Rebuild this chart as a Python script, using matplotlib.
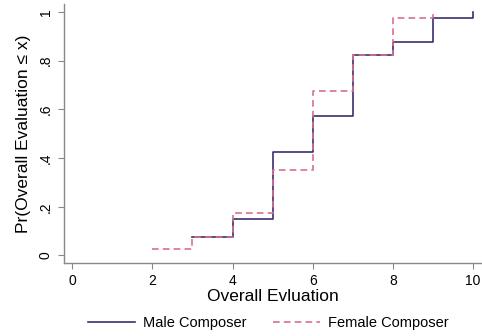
import matplotlib
matplotlib.use('Agg')
from matplotlib import pyplot as plt

# Cumulative distribution of overall evaluations.
male_x = [3, 4, 5, 6, 7, 8, 9, 10]
male_y = [0.075, 0.15, 0.425, 0.575, 0.825, 0.875, 0.975, 1.0]
female_x = [2, 3, 4, 5, 6, 7, 8, 9]
female_y = [0.025, 0.075, 0.175, 0.35, 0.675, 0.825, 0.975, 1.0]

x_ticks = [0, 2, 4, 6, 8, 10]
y_ticks = [0, 0.2, 0.4, 0.6, 0.8, 1.0]
y_tick_labels = ['0', '.2', '.4', '.6', '.8', '1']

plt.rcParams['font.family'] = ['Liberation Sans', 'DejaVu Sans']

fig = plt.figure(figsize=(4.82, 3.36), dpi=100)
ax = fig.add_axes([0.133, 0.218, 0.867, 0.77])

ax.plot(male_x, male_y, drawstyle='steps-post', color='#3b2f6e',
        lw=1.2, label='Male Composer')
ax.plot(female_x, female_y, drawstyle='steps-post', color='#d8708e',
        lw=1.2, ls=(0, (4, 2.5)), label='Female Composer')

# Format plot.
ax.set_xlim(-0.2, 10.22)
ax.set_ylim(-0.03, 1.033)
ax.set_xticks(x_ticks)
ax.set_yticks(y_ticks)
ax.set_yticklabels(y_tick_labels, rotation=90, va='center')
ax.tick_params(axis='both', labelsize=10, length=4, color='#888888', pad=4)
for side in ['top', 'right']:
    ax.spines[side].set_visible(False)
for side in ['left', 'bottom']:
    ax.spines[side].set_color('#888888')
    ax.spines[side].set_linewidth(1.0)

ax.set_xlabel('Overall Evluation', fontsize=12.5, labelpad=1)
ax.set_ylabel('Pr(Overall Evaluation \u2264 x)', fontsize=12.5, labelpad=6)

fig.legend(loc='center', bbox_to_anchor=(0.557, 0.038), ncol=2, frameon=False,
           fontsize=10.5, handlelength=3.2, handletextpad=0.55,
           columnspacing=1.85)

fig.savefig('out.png', dpi=100)
